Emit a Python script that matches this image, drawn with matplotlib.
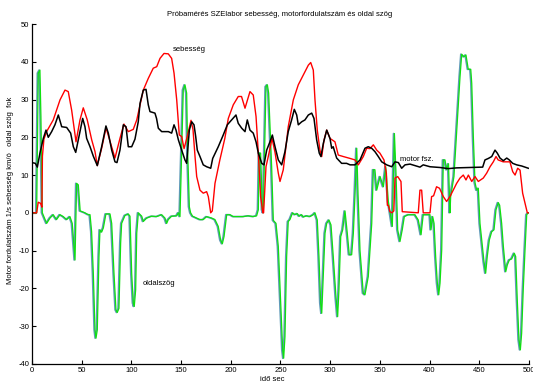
import matplotlib
matplotlib.use("Agg")
import matplotlib.pyplot as plt
import matplotlib.transforms as mtransforms

plt.rcParams["font.family"] = ["Liberation Sans", "DejaVu Sans"]
plt.rcParams["axes.unicode_minus"] = False

# sebesség (km/ó)
speed_t = [0, 4.7, 6.3, 8.7, 10, 10.5, 12, 14.7, 21.4, 28.2, 33.2, 36.5, 39.9, 44.3, 48.3,
           51.6, 55.6, 60.1, 63.4, 65.7, 70, 74.5, 79, 83.5, 88.5, 92.5, 96.9, 101.9, 105.4,
           112, 117, 122, 125.5, 128.8, 132.8, 137.1, 140.5, 142.9, 145.6, 148.2, 150.6, 153,
           156, 160, 162, 164, 165.7, 169, 172.3, 175.7, 177.4, 179.8, 181.4, 184.1, 189, 194,
           197.5, 202.5, 207.5, 210.8, 214.3, 219.3, 222.6, 225.4, 227.7, 230, 232.3, 233,
           235.4, 237.7, 241.5, 244.5, 247.8, 249.5, 252.8, 257.8, 262.9, 267.9, 273, 278,
           280.4, 283, 284.7, 287, 289.7, 291.5, 293.8, 296.5, 299.8, 304.8, 308.1, 313.2,
           320, 325, 328.3, 333.3, 336.7, 340, 343.4, 346.8, 350, 354.1, 356.5, 357.5, 358.5,
           360, 362, 364, 365.2, 367.9, 371.2, 372.5, 388.6, 390.3, 392, 393.6, 400.4, 402,
           404, 407, 410, 413.8, 417.1, 420.5, 423.8, 427.2, 430.6, 433.9, 436.6, 439, 442.4,
           445.7, 449, 454, 457.4, 460.8, 464.1, 466.8, 469, 474, 480.8, 483.6, 486, 488.6,
           491, 493.6, 496, 498.3, 500]
speed_v = [0, 0, 2.8, 2.5, 1.5, 15, 19.5, 21.5, 24.6, 29.9, 32.5, 32.1, 27.2, 18.8, 24.6,
           27.8, 24.6, 19.3, 16.2, 12.5, 17, 22.5, 18.5, 14.5, 19.7, 23.5, 21.5, 22.1, 24.6,
           32.5, 35.6, 38.3, 38.7, 40.9, 42.2, 42.1, 40.9, 37, 29.9, 20.6, 20.2, 17,
           20, 24.5, 22, 15, 9.6, 6, 5.2, 5.6, 4.3, 0, 0.5, 7.8, 14, 19.7,
           25, 28.6, 30.8, 30.8, 27.7, 32.1, 31.2, 25.5, 15.8, 4.3, 0, 0,
           12.2, 14.9, 19.7, 16, 10.5, 8.3, 11.4, 22.8, 29.9, 33.9, 36.5, 39.1,
           39.8, 37.8, 29.9, 21.9, 16.6, 14.9, 19.3, 21.9, 19.7, 18.8, 15.3, 14.9,
           14.4, 14, 12.7, 14.9, 17.1, 17, 18, 16.6, 15.8, 14, 10.5, 2, 2,
           0.3, 0, 0.5, 9.2, 9.6, 8.3, 0.3, 0, 6, 6, 0, 0, 4.3,
           4.5, 6.9, 6.5, 4.3, 3, 4.3, 6, 7.8, 9.2, 10, 8.7, 10, 8.3,
           9.6, 8.3, 9.2, 10.5, 12.2, 13.5, 14.9, 14, 13.5, 13.5, 10.9, 10, 11.8,
           11.3, 5.2, 2.5, 0, 0]

# motor fordulatszám (1/s)
motor_t = [0, 3.4, 5.4, 8, 11.4, 14.1, 16.4, 19.8, 23.1, 26.5, 29.9, 34.9, 38.9, 41.6, 44,
           47.6, 51, 53.3, 55, 58.4, 61.7, 65.7, 70.1, 74.4, 76.8, 80.2, 83.5, 85.5, 88.5,
           91.9, 94.6, 96.9, 100.3, 103.6, 106.9, 108.7, 112, 114.7, 117, 118.7, 123.7,
           125.3, 127.1, 130.5, 137.2, 140.5, 142.9, 144.9, 147.3, 150.6, 153.9, 155.6,
           158.3, 160.7, 163, 164.7, 166.3, 169, 172.3, 175.7, 179.8, 181.8, 187.4, 192.4,
           196.5, 200.9, 205.2, 207.5, 211, 214.3, 216.6, 219.3, 222.6, 225.4, 227.7, 231.1,
           233.4, 236.1, 239.4, 241.8, 244.5, 247.8, 251.2, 254.5, 257.8, 261.2, 263.9,
           266.3, 267.9, 271.3, 274.6, 278, 281.4, 283.7, 286.4, 289, 290.7, 293.1, 296.5,
           299.8, 301.5, 303, 306.5, 311.5, 316.5, 320, 325, 330, 335, 338.3, 341.7, 345,
           348.4, 351.8, 356.8, 361.9, 365.2, 368.6, 371.9, 375.3, 380.3, 385.3, 390.3,
           393.6, 400.4, 410.5, 418.8, 427.2, 440.6, 453.4, 455.7, 459.1, 462.5, 465.8,
           468.1, 470.8, 474.2, 477.6, 480.2, 483.6, 487.6, 492.6, 499.3]
motor_v = [13.3, 13.1, 12.1, 15.8, 19.7, 21.9, 20, 21.5, 23.3, 25.9, 22.8, 22.6, 21.1, 17.5, 16,
           20.6, 25, 22.8, 19.7, 17.5, 15, 12.5, 17.5, 23, 21.1, 16.6, 13.5, 13.3, 16.6,
           23.3, 22.8, 17.5, 17.5, 19.5, 24.1, 29, 32.5, 32.7, 28.6, 26.8, 26.4,
           25, 22.4, 21.5, 21.5, 21.1, 23.3, 21.9, 19.3, 16.6, 14, 13.1,
           21.9, 24.1, 23.3, 20.2, 16.6, 14.9, 12.7, 12.2, 11.8, 14.4, 17.5, 20.6,
           23.3, 24.6, 25.9, 23.7, 22.4, 21.5, 24.6, 21.9, 21.1, 18.8, 15.8, 13.1,
           12.7, 16.6, 18.8, 20.6, 17.5, 14, 12.7, 16.2, 21.5, 24.6, 27.4,
           25.9, 23.3, 24.1, 24.6, 25.9, 26.4, 25, 19.3, 15.8, 14.9, 18.4, 21.9,
           19.7, 17.1, 17.5, 14.5, 13.1, 13.1, 12.7, 12.7, 14, 17.1, 17.5, 17.1, 16.2,
           14.9, 13.5, 12.7, 12.2, 13.5, 13.3, 11.8, 12.7, 12.9, 12.5, 12.1,
           12.7, 12.2, 12, 11.7, 11.9, 12, 12.1, 14, 14.4, 14.9, 16.6,
           15.8, 14.5, 13.8, 14.5, 14, 13.1, 12.7, 12.4, 11.8]

# oldal szög (fok)
side_t = [0, 4.7, 6.3, 8, 9, 10.4, 12, 14.8, 18.1, 21.4, 24.7, 28.2, 31.5, 34.9, 38.2, 40.5,
          43.3, 44.9, 46.6, 48.5, 53.3, 56.7, 58.4, 60, 61.7, 63.4, 64.4, 65.7, 67.4, 68.4,
          70.1, 71.8, 74.4, 78.5, 80.2, 82.5, 84.5, 85.8, 87.5, 89.2, 90.2, 93.6, 96.9, 98.6,
          100.3, 101.9, 102.9, 104.3, 105.4, 107, 110.4, 112, 115.4, 120.4, 125.5, 130.5,
          133.8, 135.5, 137.1, 140.5, 145.6, 147.3, 148.9, 150.6, 152.2, 153.9, 155.6, 156.6,
          158.3, 159.6, 161.6, 165.7, 169, 172.3, 175.7, 180.8, 184.1, 187.4, 189.8, 191.5,
          193.2, 195.9, 199.3, 202.5, 207.5, 212.6, 217.6, 222.6, 226, 227.7, 228.7, 230,
          231.7, 232.7, 235.4, 236.8, 238.1, 241.1, 242.8, 245.5, 247.8, 250.2, 252.2, 253.2,
          254.5, 256.2, 257.8, 259.5, 262.2, 264.5, 266.9, 268.9, 271.3, 273, 276.3, 279.7,
          283, 284.7, 287, 288.7, 290.4, 291.5, 293.1, 294.8, 296.5, 298.8, 300.8, 303.1,
          305.8, 307.5, 308.8, 310.6, 312.6, 314.9, 317.2, 319.2, 321.6, 323.3, 325, 326.7,
          328, 330, 333.3, 335, 338.3, 340.1, 341.8, 343.4, 345, 346.8, 350.2, 353.5, 355.9,
          358.5, 360.2, 362.5, 364.6, 366.2, 367.9, 370.2, 372.5, 374.6, 378.6, 385.3, 388.6,
          391.4, 393.6, 400.4, 401.4, 403.1, 404.5, 406.1, 407.8, 409.2, 410.5, 412.2, 413.8,
          415.5, 417.1, 419, 420.5, 421.2, 424.5, 427.2, 430.6, 432.3, 434.6, 436.6, 437.9,
          438.9, 441.4, 442.4, 444, 445.7, 447.4, 449, 450.7, 454.7, 456.4, 458, 460.1, 462.5,
          464.8, 466.8, 469.1, 470.5, 472.5, 474.2, 476.6, 478.2, 480.2, 482.6, 485.2, 486.6,
          488.2, 489.9, 491.3, 492.6, 494.2, 496, 497.7, 499.3, 500]
side_v = [0, 0, 37, 37.8, 25.5, 0, -1, -2.8, -1.4, -0.5, -1.8, -0.5, -1, -1.8, -1, -2.8,
          -12.5, 7.8, 7.4, 0.5, 0, -0.5, -0.5, -5, -16, -31, -33.2, -31, -11.6, -4.5,
          -5.1, -4, -0.3, -0.3, -2.8, -16, -25.7, -26.4, -25.3, -8, -2.8, -0.7, -0.3, -0.9,
          -16, -23.9, -24.8, -20.4, -5.4, 0, -0.9, -2.3, -1.4, -0.9, -1, -0.5,
          -1.4, -2.8, -1.8, -0.9, -0.8, 0, -1, 16.6, 32.5, 33.9, 31.7, 16.6,
          1.6, 0, -0.9, -1.4, -1.8, -1.8, -1, -1.4, -1.8, -3.6, -7.2, -8.2,
          -6.3, -0.5, -0.5, -1, -1, -1, -0.8, -1, -0.8, 0.8, 15.8, 15.8,
          0.8, 0, 33.4, 33.9, 31.7, 12.2, -2, -2.8, -8.9, -23.9, -36.3, -38.5,
          -32.8, -11.6, -2.3, -1.8, 0, -0.5, -0.2, -0.9, -0.5, -1.1, -0.8, -1,
          -0.5, 0, -1.9, -11.6, -23.9, -26.6, -16, -5.4, -2.8, -1.9, -3.2, -11.6,
          -22.2, -27.5, -20.4, -6.3, -4.5, 0.5, -5.4, -11.1, -11.1, -5.4, 5, 17.1,
          5, -10, -21.3, -21.7, -16.9, -9.8, -2.8, 11.4, 11.4, 6, 9.6, 6.9, 12.2,
          3, 0.3, -3.6, 21, 10.5, -4.5, -7.6, -4.5, -1, -0.5, -0.5, -1.9,
          -5.8, -0.5, -0.5, -4.5, -1, -2.8, -11.6, -18.6, -21.7, -18.6, -9.8, 14,
          14, 11.4, 13, 0, 4.3, 9.6, 21.1, 36, 42, 41.3, 41.8, 39.6,
          38, 38, 34.3, 20.2, 8, 6, 6.5, -2.8, -12.9, -16, -11.6, -7.2, -5,
          -4.5, 0.8, 2.7, 2, -2.8, -8.9, -15.6, -13.8, -12.5, -12.2, -10.7, -11.6,
          -23, -33.6, -36.3, -31.9, -20.4, -9.8, -0.5, 0, 0]

fig = plt.figure(figsize=(5.33, 3.81), dpi=100)
ax = fig.add_axes([0.060, 0.045, 0.9325, 0.892])

# blue-grey shadow under the green trace, shifted one pixel left
shadow = mtransforms.offset_copy(ax.transData, fig=fig, x=-0.9, y=0.0, units="dots")
ax.plot(side_t, side_v, color="#5f9ab8", linewidth=1.2, transform=shadow)
ax.plot(side_t, side_v, color="#10e010", linewidth=0.9)
ax.plot(speed_t, speed_v, color="#ff0000", linewidth=1.0)
ax.plot(motor_t, motor_v, color="#000000", linewidth=1.1)

ax.text(141.5, 43.2, "sebesség", fontsize=5.5, va="center", ha="left")
ax.text(370, 14.0, "motor fsz.", fontsize=5.5, va="center", ha="left")
ax.text(111, -18.6, "oldalszög", fontsize=5.5, va="center", ha="left")

ax.set_xlim(0, 500)
ax.set_ylim(-40, 50)
ax.set_xticks(range(0, 501, 50))
ax.set_yticks(range(-40, 51, 10))
ax.tick_params(direction="in", length=3, width=0.8, labelsize=5.5, pad=2)
for side in ("top", "right"):
    ax.spines[side].set_visible(False)
for side in ("left", "bottom"):
    ax.spines[side].set_linewidth(0.9)

fig.text(0.525, 0.963, "Próbamérés SZElabor sebesség, motorfordulatszám és oldal szög",
         fontsize=5.5, ha="center", va="center")
fig.text(0.019, 0.50, "Motor fordulatszám 1/s sebesség km/ó   oldal szög  fok",
         fontsize=5.5, rotation=90, ha="center", va="center")
fig.text(0.51, 0.012, "idő sec", fontsize=5.5, ha="center", va="top")

fig.savefig("out.png", dpi=100)
